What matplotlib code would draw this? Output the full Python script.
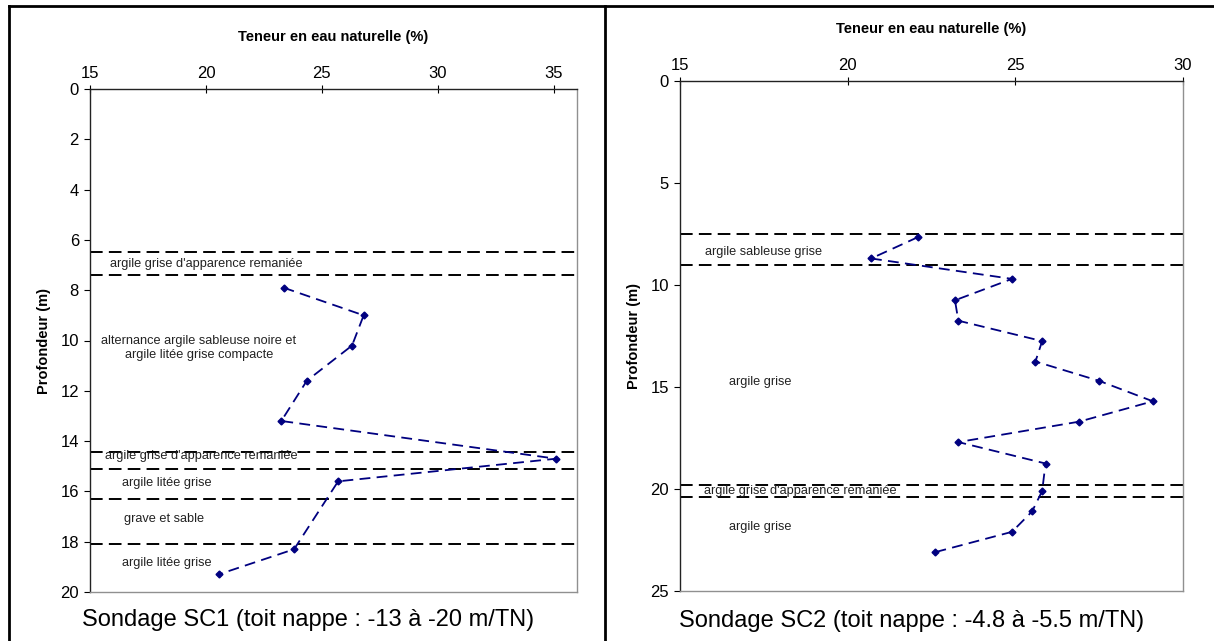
import numpy as np
import matplotlib
matplotlib.use("Agg")
import matplotlib.pyplot as plt
from matplotlib.lines import Line2D

plt.rcParams['font.family'] = ['Liberation Sans', 'DejaVu Sans']

# SC1 data
sc1_w = [23.35, 26.8, 26.3, 24.35, 23.25, 35.1, 25.7, 23.8, 20.55]
sc1_z = [7.9, 9.0, 10.2, 11.6, 13.2, 14.7, 15.6, 18.3, 19.3]
sc1_layers = [6.5, 7.4, 14.45, 15.1, 16.3, 18.1]
sc1_labels = [
    ("argile grise d'apparence remaniée", 20.0, 6.95),
    ("alternance argile sableuse noire et\nargile litée grise compacte", 19.7, 10.3),
    ("argile grise d'apparence remaniée", 19.8, 14.6),
    ("argile litée grise", 18.3, 15.65),
    ("grave et sable", 18.2, 17.1),
    ("argile litée grise", 18.3, 18.85),
]

# SC2 data
sc2_w = [22.1, 20.7, 24.9, 23.2, 23.3, 25.8, 25.6, 27.5, 29.1, 26.9,
         23.3, 25.9, 25.8, 25.5, 24.9, 22.6]
sc2_z = [7.65, 8.7, 9.7, 10.75, 11.75, 12.75, 13.75, 14.7, 15.7, 16.7,
         17.7, 18.75, 20.1, 21.1, 22.1, 23.1]
sc2_layers = [7.5, 9.0, 19.8, 20.4]
sc2_labels = [
    ("argile sableuse grise", 17.5, 8.4),
    ("argile grise", 17.4, 14.75),
    ("argile grise d'apparence remaniée", 18.6, 20.1),
    ("argile grise", 17.4, 21.85),
]


def setup_axis(ax, xlim, xticks, ylim, yticks):
    ax.set_xlim(*xlim)
    ax.set_ylim(ylim[1], ylim[0])
    ax.set_xticks(xticks)
    ax.set_yticks(yticks)
    ax.xaxis.tick_top()
    ax.xaxis.set_label_position('top')
    ax.tick_params(axis='x', direction='inout', length=6, width=0.8, labelsize=12, pad=3)
    ax.tick_params(axis='y', direction='out', length=4, width=0.8, labelsize=12, pad=4)
    for s in ['top', 'left']:
        ax.spines[s].set_color('#222222')
        ax.spines[s].set_linewidth(1.0)
    for s in ['right', 'bottom']:
        ax.spines[s].set_color('#909090')
        ax.spines[s].set_linewidth(1.0)
    ax.set_xlabel('Teneur en eau naturelle (%)', fontsize=10.5, fontweight='bold', labelpad=18)
    ax.set_ylabel('Profondeur (m)', fontsize=10.5, fontweight='bold', labelpad=7)


def draw_profile(ax, w, z, layers, labels):
    for d in layers:
        ax.axhline(d, color='black', lw=1.4, ls=(0, (6.5, 3.2)), zorder=1)
    ax.plot(w, z, color='#000080', lw=1.3, ls=(0, (6, 3.5)), marker='D', ms=3.5, zorder=3)
    for txt, x, y in labels:
        ax.text(x, y, txt, fontsize=9.2, color='#222222', ha='center', va='center')


fig = plt.figure(figsize=(12.14, 6.41), dpi=100)

ax1 = fig.add_axes([90/1214, 49/641, 487/1214, 503/641])
setup_axis(ax1, (15, 36), [15, 20, 25, 30, 35], (0, 20), np.arange(0, 21, 2))
draw_profile(ax1, sc1_w, sc1_z, sc1_layers, sc1_labels)

ax2 = fig.add_axes([680/1214, 50/641, 503/1214, 510/641])
setup_axis(ax2, (15, 30), [15, 20, 25, 30], (0, 25), np.arange(0, 26, 5))
draw_profile(ax2, sc2_w, sc2_z, sc2_layers, sc2_labels)

# table frame
fig.add_artist(Line2D([9/1214, 9/1214], [0, 1 - 6/641], transform=fig.transFigure, color='black', lw=2))
fig.add_artist(Line2D([9/1214, 1], [1 - 6/641, 1 - 6/641], transform=fig.transFigure, color='black', lw=2))
fig.add_artist(Line2D([605/1214, 605/1214], [0, 1 - 6/641], transform=fig.transFigure, color='black', lw=2))

fig.text(308/1214, 1 - 620/641, 'Sondage SC1 (toit nappe : -13 à -20 m/TN)', fontsize=17, ha='center', va='center')
fig.text(912/1214, 1 - 621/641, 'Sondage SC2 (toit nappe : -4.8 à -5.5 m/TN)', fontsize=17, ha='center', va='center')

fig.savefig('out.png', dpi=100)
